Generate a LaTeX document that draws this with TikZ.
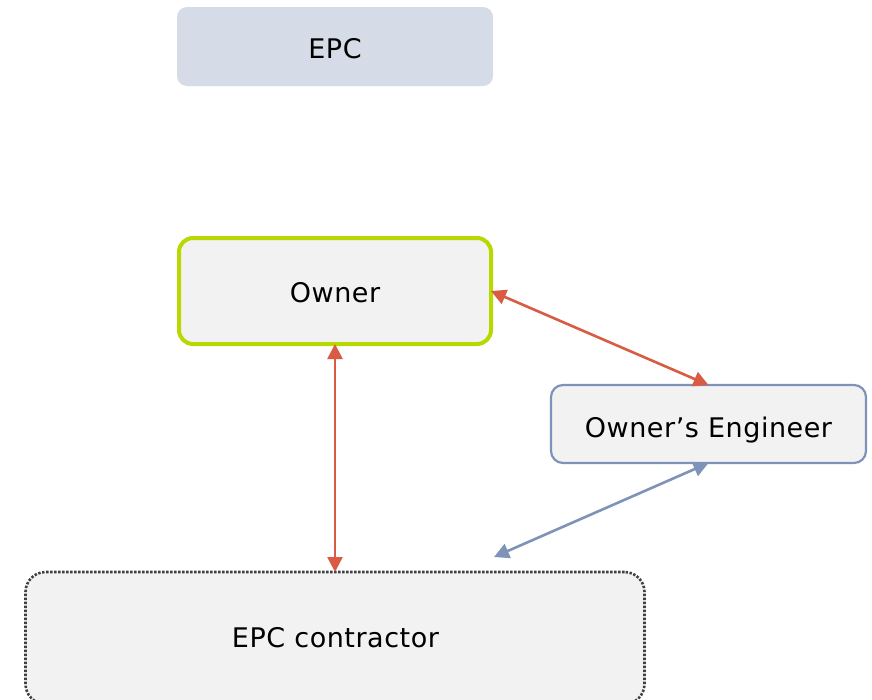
\documentclass[tikz,border=0pt]{standalone}
\usepackage{fontspec}
\setmainfont{DejaVu Sans}[LetterSpace=2]
\usetikzlibrary{arrows.meta}
\definecolor{arrred}{HTML}{D95B43}
\definecolor{arrblue}{HTML}{7F93B8}
\definecolor{ownergreen}{HTML}{B8D800}
\definecolor{boxfill}{HTML}{F2F2F2}
\definecolor{epcfill}{HTML}{D5DBE7}
\definecolor{dotgray}{HTML}{404040}
\begin{document}
\begin{tikzpicture}[x=1pt,y=-1pt,
  every node/.style={inner sep=0pt, outer sep=0pt},
  lbl/.style={font=\fontsize{27}{32}\selectfont, text height=20pt, text depth=0pt, inner sep=0pt},
  epcbox/.style={rectangle, rounded corners=10pt, fill=epcfill, minimum width=316pt, minimum height=79pt},
  ownerbox/.style={rectangle, rounded corners=14pt, draw=ownergreen, line width=4pt, fill=boxfill, minimum width=312pt, minimum height=106pt},
  oebox/.style={rectangle, rounded corners=12pt, draw=arrblue, line width=2.2pt, fill=boxfill, minimum width=315pt, minimum height=78pt},
  epccbox/.style={rectangle, rounded corners=20pt, draw=dotgray, line width=2.6pt, dash pattern=on 2.4pt off 1.6pt, fill=boxfill, minimum width=619pt, minimum height=132pt},
  redarrow/.style={draw=arrred, line width=2.6pt, {Triangle[length=15pt,width=15pt]}-{Triangle[length=15pt,width=15pt]}},
  bluearrow/.style={draw=arrblue, line width=2.6pt, {Triangle[length=15pt,width=15pt]}-{Triangle[length=15pt,width=15pt]}}
]
\useasboundingbox[fill=white] (0,0) rectangle (872,699);
\node[epcbox] (epc) at (335,46.5) {};
\node[ownerbox] (owner) at (335,291) {};
\node[oebox] (oe) at (708.5,424) {};
\node[epccbox] (epcc) at (335,638) {};
\node[lbl] (epclabel) at (335,48) {EPC};
\node[lbl] (ownerlabel) at (335,292) {Owner};
\node[lbl] (oelabel) at (708.5,427) {Owner’s Engineer};
\node[lbl] (epcclabel) at (335.5,637) {EPC contractor};
\coordinate (bluetip) at (494,557);
\draw[redarrow] (owner.east) -- (oe.north);
\draw[redarrow] (owner.south) -- (epcc.north);
\draw[bluearrow] (oe.south) -- (bluetip);
\end{tikzpicture}
\end{document}
